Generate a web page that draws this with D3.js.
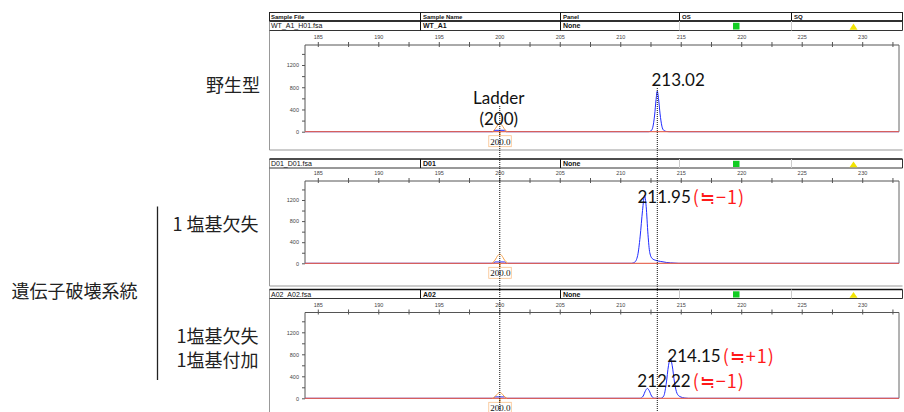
<!DOCTYPE html>
<html><head><meta charset="utf-8">
<script src="https://cdn.jsdelivr.net/npm/d3@7"></script>
<style>body{margin:0;background:#fff;} svg{display:block;}</style>
</head><body><svg id="c" width="904" height="412"></svg>
<script>
// ---------- data ----------
const columnHeaders = ["Sample File", "Sample Name", "Panel", "OS", "SQ"];
const sampleFiles = ["WT_A1_H01.fsa", "D01_D01.fsa", "A02_A02.fsa"];
const sampleNames = ["WT_A1", "D01", "A02"];
const panelNames = ["None", "None", "None"];
const sizeDomain = [183.9, 233.0];
const sizeTickLabels = [185, 190, 195, 200, 205, 210, 215, 220, 225, 230];
const sizeMinorTicks = [185, 187.5, 190, 192.5, 195, 197.5, 200, 202.5, 205, 207.5, 210, 212.5, 215, 217.5, 220, 222.5, 225, 227.5, 230, 232.5];
const heightTickLabels = [0, 400, 800, 1200];
const heightMinorTicks = [0, 200, 400, 600, 800, 1000, 1200, 1400];
const heightMax = 1560;
const ladderSize = 200.0;
const ladderLabel = "200.0";
const markerSize = 213.02;

// blue (sample) traces: [size, height]
const blueWT = [[199.45,0],[199.6,25],[200.4,25],[200.55,0],[212.3,0],[212.5,15],[212.65,80],[212.8,300],[212.92,580],[213.02,730],[213.12,600],[213.25,320],[213.4,100],[213.55,25],[213.75,5],[214.0,0]];
const blueD01 = [[199.45,0],[199.6,25],[200.4,25],[200.55,0],[210.9,0],[211.15,20],[211.4,150],[211.6,500],[211.8,1000],[211.97,1290],[212.1,1080],[212.25,550],[212.4,200],[212.6,90],[212.9,55],[213.3,35],[213.8,15],[214.4,5],[214.8,0]];
const blueA02 = [[199.45,0],[199.6,25],[200.4,25],[200.55,0],[211.6,0],[211.85,40],[212.05,140],[212.2,180],[212.35,140],[212.55,40],[212.8,0],[213.3,0],[213.55,40],[213.75,250],[213.95,600],[214.1,720],[214.25,600],[214.45,280],[214.65,90],[214.9,30],[215.3,5],[215.6,0]];
// orange (size standard) traces
const orangeWT = [[199.4,0],[199.65,60],[199.85,125],[200.0,150],[200.15,125],[200.35,60],[200.6,0]];
const orangeD01 = [[199.35,0],[199.6,60],[199.85,150],[200.0,176],[200.15,150],[200.4,60],[200.65,0]];
const orangeA02 = [[199.4,0],[199.65,40],[199.85,90],[200.0,108],[200.15,90],[200.35,40],[200.6,0]];
const blueTraces = [blueWT, blueD01, blueA02];
const orangeTraces = [orangeWT, orangeD01, orangeA02];

// annotations
const peakValues = [["213.02"], ["211.95"], ["214.15", "212.22"]];
const peakDiffs = [[""], ["(≒−1)"], ["(≒+1)", "(≒−1)"]];
const ladderText = ["Ladder", "(200)"];
const rowLabels = [["野生型"], ["1 塩基欠失"], ["1塩基欠失", "1塩基付加"]];
const groupLabel = "遺伝子破壊系統";

// ---------- layout ----------
const svg = d3.select("#c");
const frameL = 269.5, frameR = 902.5;
const colSep = [420.5, 560.5, 679.5, 791.5];
const colText = [271, 423, 563, 682, 794];
const plotL = 305, plotR = 899;
const panels = [
  {rowTop: 21, rowBot: 30.5, tickLab: 38.5, axisY: 45, zeroY: 131.7, frameBot: 150},
  {rowTop: 159, rowBot: 168, tickLab: 174.5, axisY: 181, zeroY: 263.3, frameBot: 286},
  {rowTop: 289.5, rowBot: 298.5, tickLab: 306.5, axisY: 312.5, zeroY: 398.3, frameBot: 430}
];
const peakTextPos = [[[651.5, 79]], [[637.5, 196]], [[667.3, 355], [637.3, 379.5]]];

const x = d3.scaleLinear().domain(sizeDomain).range([plotL, plotR]);

// header row (panel 1 only)
const hdr = svg.append("g");
hdr.append("rect").attr("x", frameL).attr("y", 12.5).attr("width", frameR - frameL).attr("height", 8.5)
  .attr("fill", "#fff").attr("stroke", "#222").attr("stroke-width", 1);
colSep.forEach(cx => hdr.append("line").attr("x1", cx).attr("x2", cx).attr("y1", 12.5).attr("y2", 21).attr("stroke", "#111"));
columnHeaders.forEach((t, i) => hdr.append("text").attr("x", colText[i]).attr("y", 19)
  .attr("font-family", "Liberation Sans, Arial, sans-serif").attr("font-size", 6).attr("font-weight", "bold")
  .attr("fill", "#111").text(t));

panels.forEach((p, i) => {
  const g = svg.append("g");
  // frame
  g.append("line").attr("x1", frameL).attr("x2", frameL).attr("y1", p.rowTop).attr("y2", p.frameBot).attr("stroke", "#999");
  g.append("line").attr("x1", frameL).attr("x2", frameR).attr("y1", p.frameBot).attr("y2", p.frameBot).attr("stroke", "#999");
  // sample row
  g.append("line").attr("x1", frameL).attr("x2", frameR).attr("y1", p.rowTop).attr("y2", p.rowTop).attr("stroke", "#111").attr("stroke-width", 1.6);
  g.append("line").attr("x1", frameL).attr("x2", frameR).attr("y1", p.rowBot).attr("y2", p.rowBot).attr("stroke", "#333");
  g.append("line").attr("x1", frameR).attr("x2", frameR).attr("y1", p.rowTop).attr("y2", p.rowBot).attr("stroke", "#333");
  colSep.forEach((cx, k) => g.append("line").attr("x1", cx).attr("x2", cx).attr("y1", p.rowTop).attr("y2", p.rowBot)
    .attr("stroke", k < 2 ? "#111" : "#ccc"));
  const ty = (p.rowTop + p.rowBot) / 2 + 2.6;
  g.append("text").attr("x", colText[0]).attr("y", ty).attr("font-family", "Liberation Sans, Arial, sans-serif")
    .attr("font-size", 7).attr("fill", "#111").text(sampleFiles[i]);
  g.append("text").attr("x", colText[1]).attr("y", ty).attr("font-family", "Liberation Sans, Arial, sans-serif")
    .attr("font-size", 7).attr("font-weight", "bold").attr("fill", "#111").text(sampleNames[i]);
  g.append("text").attr("x", colText[2]).attr("y", ty).attr("font-family", "Liberation Sans, Arial, sans-serif")
    .attr("font-size", 7).attr("font-weight", "bold").attr("fill", "#111").text(panelNames[i]);
  g.append("rect").attr("x", 733).attr("y", p.rowTop + 1.8).attr("width", 6.5).attr("height", p.rowBot - p.rowTop - 2.8).attr("fill", "#11cc22");
  g.append("path").attr("d", `M849.5,${p.rowBot - 0.8} L857.5,${p.rowBot - 0.8} L853.5,${p.rowTop + 2.5} Z`).attr("fill", "#f2e400");

  const y = d3.scaleLinear().domain([0, heightMax]).range([p.zeroY, p.axisY]);

  // top size axis
  g.append("line").attr("x1", plotL).attr("x2", plotR).attr("y1", p.axisY).attr("y2", p.axisY).attr("stroke", "#555");
  g.append("line").attr("x1", plotR).attr("x2", plotR).attr("y1", p.axisY).attr("y2", p.zeroY).attr("stroke", "#666");
  g.selectAll(".xt").data(sizeMinorTicks).enter().append("line")
    .attr("x1", d => x(d)).attr("x2", d => x(d)).attr("y1", p.axisY - 3).attr("y2", p.axisY + 2).attr("stroke", "#555");
  g.selectAll(".xl").data(sizeTickLabels).enter().append("text")
    .attr("x", d => x(d)).attr("y", p.tickLab).attr("text-anchor", "middle")
    .attr("font-family", "Liberation Sans, Arial, sans-serif").attr("font-size", 5.5).attr("fill", "#444").text(d => d);

  // left height axis
  const ya = d3.axisLeft(y).tickValues(heightMinorTicks).tickSize(3)
    .tickFormat(d => heightTickLabels.includes(d) ? d : "");
  const yg = g.append("g").attr("transform", `translate(${plotL},0)`).call(ya);
  yg.select(".domain").attr("stroke", "#555").attr("d", `M0,${p.zeroY}V${p.axisY}`);
  yg.selectAll(".tick line").attr("stroke", "#555");
  yg.selectAll(".tick text").attr("font-family", "Liberation Sans, Arial, sans-serif").attr("font-size", 5.5).attr("fill", "#444");

  const line = d3.line().x(d => x(d[0])).y(d => y(d[1])).curve(d3.curveMonotoneX);
  const full = arr => [[sizeDomain[0], 0]].concat(arr, [[sizeDomain[1], 0]]);
  g.append("path").attr("d", line(full(blueTraces[i]))).attr("fill", "none").attr("stroke", "#1f2bff").attr("stroke-width", 1);
  g.append("path").attr("d", line([[sizeDomain[0], 0], [sizeDomain[1], 0]])).attr("fill", "none")
    .attr("stroke", "#e5604c").attr("stroke-width", 1.3).attr("opacity", 0.9);
  g.append("path").attr("d", line(orangeTraces[i])).attr("fill", "none").attr("stroke", "#f7a24a").attr("stroke-width", 1);

  // ladder label box
  const bx = x(ladderSize);
  g.append("line").attr("x1", bx).attr("x2", bx).attr("y1", p.zeroY).attr("y2", p.zeroY + 4).attr("stroke", "#f7a24a").attr("stroke-width", 1.5);
  g.append("rect").attr("x", bx - 11).attr("y", p.zeroY + 4).attr("width", 22.5).attr("height", 11)
    .attr("fill", "#fff").attr("stroke", "#f9c08a").attr("stroke-width", 0.8);
  g.append("text").attr("x", bx + 0.5).attr("y", p.zeroY + 12.8).attr("text-anchor", "middle")
    .attr("font-family", "Liberation Serif, Times New Roman, serif").attr("font-size", 9).attr("fill", "#111").text(ladderLabel);
});

// dotted reference lines
svg.append("line").attr("x1", x(ladderSize)).attr("x2", x(ladderSize)).attr("y1", 106).attr("y2", 412)
  .attr("stroke", "#111").attr("stroke-width", 1).attr("stroke-dasharray", "1,1");
svg.append("line").attr("x1", x(markerSize)).attr("x2", x(markerSize)).attr("y1", 88).attr("y2", 412)
  .attr("stroke", "#111").attr("stroke-width", 1).attr("stroke-dasharray", "1,1");

// annotations
const annFont = "Lato, Carlito, Calibri, sans-serif";
svg.append("text").attr("x", x(ladderSize) - 1).attr("y", 97).attr("dominant-baseline", "central").attr("text-anchor", "middle")
  .attr("font-family", annFont).attr("font-size", 17).attr("fill", "#111").text(ladderText[0]);
svg.append("text").attr("x", x(ladderSize) - 1).attr("y", 118).attr("dominant-baseline", "central").attr("text-anchor", "middle")
  .attr("font-family", annFont).attr("font-size", 17).attr("fill", "#111").text(ladderText[1]);
peakValues.forEach((vals, i) => vals.forEach((v, k) => {
  const [px, py] = peakTextPos[i][k];
  const t = svg.append("text").attr("x", px).attr("y", py).attr("dominant-baseline", "central");
  t.append("tspan").attr("font-family", annFont).attr("font-size", 17).attr("fill", "#111").text(v);
  if (peakDiffs[i][k]) t.append("tspan").attr("dx", 2).attr("font-family", "Noto Sans CJK JP, sans-serif")
    .attr("font-size", 18).attr("letter-spacing", 1).attr("fill", "#ff1a1a").text(peakDiffs[i][k]);
}));

// left labels
const jp = "Noto Sans CJK JP, sans-serif";
svg.append("text").attr("x", 260).attr("y", 83.5).attr("text-anchor", "end").attr("dominant-baseline", "central")
  .attr("font-family", jp).attr("font-size", 18).attr("fill", "#222").text(rowLabels[0][0]);
svg.append("text").attr("x", 258.5).attr("y", 222.5).attr("text-anchor", "end").attr("dominant-baseline", "central")
  .attr("font-family", jp).attr("font-size", 18).attr("fill", "#222").text(rowLabels[1][0]);
svg.append("text").attr("x", 258.5).attr("y", 335).attr("text-anchor", "end").attr("dominant-baseline", "central")
  .attr("font-family", jp).attr("font-size", 18).attr("fill", "#222").text(rowLabels[2][0]);
svg.append("text").attr("x", 258.5).attr("y", 358.5).attr("text-anchor", "end").attr("dominant-baseline", "central")
  .attr("font-family", jp).attr("font-size", 18).attr("fill", "#222").text(rowLabels[2][1]);
svg.append("text").attr("x", 11.5).attr("y", 290).attr("dominant-baseline", "central")
  .attr("font-family", jp).attr("font-size", 18).attr("fill", "#222").text(groupLabel);
svg.append("line").attr("x1", 157.5).attr("x2", 157.5).attr("y1", 206.5).attr("y2", 380).attr("stroke", "#222").attr("stroke-width", 1.3);
</script></body></html>
